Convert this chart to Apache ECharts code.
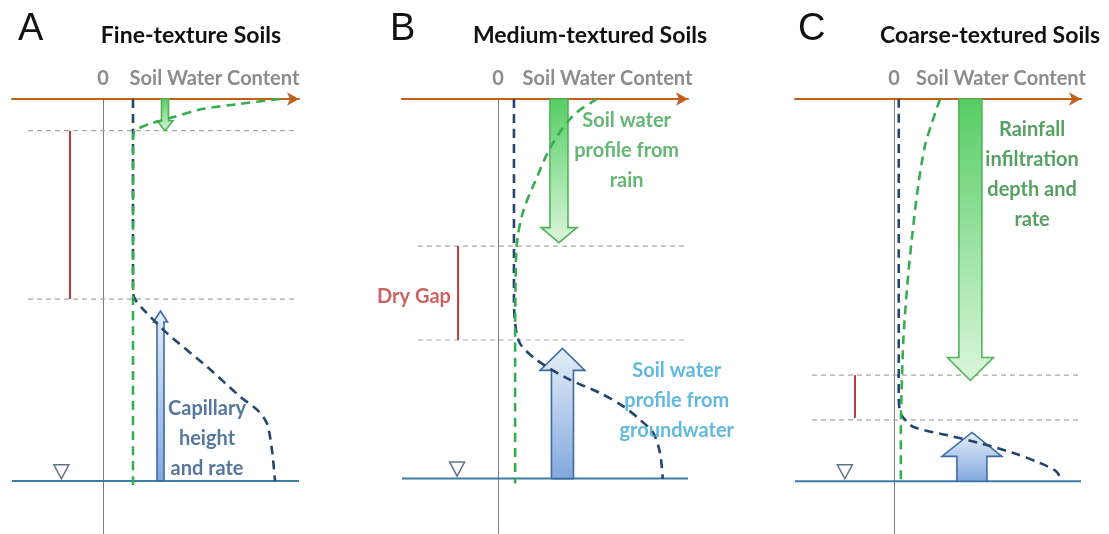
<!DOCTYPE html>
<html><head><meta charset="utf-8">
<script src="https://cdn.jsdelivr.net/npm/echarts@6/dist/echarts.min.js"></script>
<style>html,body{margin:0;padding:0;background:#fff}#c{width:1109px;height:534px}</style>
</head><body><div id="c"></div>
<script>
// ---------- DATA (x = soil water content, arbitrary units; d = depth, 0 = surface, 100 = water table) ----------
const panelLetters = ['A', 'B', 'C'];
const panelTitles = ['Fine-texture Soils', 'Medium-textured Soils', 'Coarse-textured Soils'];
const axisTitle = 'Soil Water Content';
const zeroTick = [0];

// depth of the water table in each panel
const waterTable = [100, 99.4, 100.1];
// dashed boundaries of the dry gap (depths) and the red bar [x, top, bottom]
const gapLinesA = [8.3, 52.4];
const gapLinesB = [38.5, 63.1];
const gapLinesC = [72.3, 84.0];
const dryBarA = [-16.5, 8.3, 52.4];
const dryBarB = [-20.6, 38.5, 63.1];
const dryBarC = [-20.4, 72.3, 83.5];
// water table marker [x, depth]
const wtMarker = [[-20.8, 97.6], [-21.1, 96.9], [-25.7, 97.6]];

// soil water profile from rain (green dashed)
const rainProfileA = [[88.5, 0], [68, 1.3], [48, 2.8], [35, 4.8], [23, 6.6], [16, 8.3], [15, 10], [15, 40], [15, 70], [15, 102]];
const rainProfileB = [[51, 0], [39, 4.2], [27.7, 12], [19.1, 21.6], [12.9, 29.5], [9.8, 37.3], [9.1, 45], [8.9, 54], [8.8, 62], [8.8, 80], [8.8, 100.7]];
const rainProfileC = [[24.1, 0], [19.9, 6.2], [16.2, 12.3], [12.6, 23], [9.4, 36.4], [6.8, 49.8], [4.9, 63.2], [4, 76.6], [3.6, 85.7], [3.6, 93], [3.6, 100.7]];

// soil water profile from groundwater (dark blue dashed)
const gwProfileA = [[15, 0], [15, 25], [15, 49], [15.6, 52], [20, 55], [32, 61.3], [52, 70.1], [68.5, 77.9], [77.5, 81.6], [82, 85], [84.5, 92], [86, 100]];
const gwProfileB = [[8.2, 0], [8.2, 25], [8.2, 51.7], [8.8, 58.7], [11.3, 64], [19.9, 68.3], [35.4, 73.1], [52.6, 77], [64.6, 80.5], [73.2, 84], [80.1, 87.5], [83.5, 92.8], [84.9, 99.4]];
const gwProfileC = [[2.5, 0], [2.5, 40], [2.5, 78], [3, 81.5], [4.2, 83], [10, 85.8], [27.6, 88], [45, 90.1], [62.5, 92.7], [76.4, 95.3], [85.1, 97.6], [87.7, 100.1]];

// arrows [x, fromDepth, toDepth(tip)]
const rainArrows = [[31, 0, 8.3], [31.4, 0, 37.6], [40, 0, 73.7]];
const capArrows = [[28.75, 100, 55.5], [33.2, 99.4, 65.3], [40.8, 100.1, 87.3]];

// annotations [x, depth, text]
const notesA = [[52, 89, 'Capillary\nheight\nand rate']];
const notesB = [[66.3, 13.4, 'Soil water\nprofile from\nrain'], [92.1, 79, 'Soil water\nprofile from\ngroundwater'], [-43.3, 51.8, 'Dry Gap']];
const notesC = [[72.3, 19.8, 'Rainfall\ninfiltration\ndepth and\nrate']];

// ---------- LAYOUT / STYLE ----------
const grids = [
  { left: 12, top: 99, width: 287, height: 435, xmin: -45.5, xmax: 98 },
  { left: 402, top: 99, width: 286, height: 435, xmin: -49.5, xmax: 97.9 },
  { left: 795, top: 99, width: 286, height: 435, xmin: -51.8, xmax: 97.9 }
];
const yMax = 113.9;
const FONT = 'Lato';
const rainArrowStyle = [
  { shaft: 7, head: 16, headLen: 10 },
  { shaft: 18, head: 36, headLen: 15 },
  { shaft: 23, head: 46, headLen: 23 }
];
const capArrowStyle = [
  { shaft: 7, head: 14, headLen: 11 },
  { shaft: 22, head: 45, headLen: 22 },
  { shaft: 30, head: 60, headLen: 24 }
];
const noteColorsB = ['#3fa551', '#3aa7d4', '#c0393b'];
const noteColorA = '#2a5586';
const noteColorC = '#2c8a3a';

const gapLines = [gapLinesA, gapLinesB, gapLinesC];
const dryBars = [dryBarA, dryBarB, dryBarC];
const rainProfiles = [rainProfileA, rainProfileB, rainProfileC];
const gwProfiles = [gwProfileA, gwProfileB, gwProfileC];
const notes = [notesA, notesB, notesC];

const chart = echarts.init(document.getElementById('c'));

function arrowSeries(gi, item, st, kind) {
  return {
    type: 'custom', xAxisIndex: gi, yAxisIndex: gi, z: 3, silent: true,
    data: [item],
    renderItem: function (params, api) {
      const x = api.value(0), d0 = api.value(1), d1 = api.value(2);
      const p0 = api.coord([x, d0]), p1 = api.coord([x, d1]);
      const dir = p1[1] > p0[1] ? 1 : -1;
      const cx = p0[0];
      const hb = p1[1] - dir * st.headLen;
      const sw = st.shaft / 2, hw = st.head / 2;
      const pts = [[cx - sw, p0[1]], [cx - sw, hb], [cx - hw, hb], [cx, p1[1]], [cx + hw, hb], [cx + sw, hb], [cx + sw, p0[1]]];
      const fill = kind === 'rain'
        ? new echarts.graphic.LinearGradient(0, 0, 0, 1, [{ offset: 0, color: '#56cd64' }, { offset: 1, color: '#dcf6dc' }])
        : new echarts.graphic.LinearGradient(0, 0, 0, 1, [{ offset: 0, color: '#e6eef9' }, { offset: 1, color: '#82a8de' }]);
      return {
        type: 'polygon', shape: { points: pts },
        style: { fill: fill, stroke: kind === 'rain' ? '#4db45a' : '#3d6ca4', lineWidth: 1.6 }
      };
    }
  };
}

const series = [];
const xAxes = [], yAxes = [], gridOpts = [];
grids.forEach((g, i) => {
  gridOpts.push({ left: g.left, top: g.top, width: g.width, height: g.height, containLabel: false });
  xAxes.push({
    gridIndex: i, type: 'value', position: 'top', min: g.xmin, max: g.xmax,
    axisLine: { show: true, onZero: false, lineStyle: { color: '#c0601f', width: 2 }, symbol: ['none', 'arrow'], symbolSize: [10, 12] },
    axisTick: { show: false }, splitLine: { show: false },
    axisLabel: { show: true, customValues: zeroTick, margin: 10, color: '#8c8c8c', fontFamily: FONT, fontWeight: 'bold', fontSize: 20 }
  });
  yAxes.push({
    gridIndex: i, type: 'value', inverse: true, min: 0, max: yMax,
    axisLine: { show: true, onZero: true, lineStyle: { color: '#7a7a7a', width: 1 } },
    axisTick: { show: false }, axisLabel: { show: false }, splitLine: { show: false }
  });
  // dashed gap boundaries
  gapLines[i].forEach(d => {
    series.push({
      type: 'line', xAxisIndex: i, yAxisIndex: i, symbol: 'none', silent: true, z: 1,
      data: [[g.xmin + (i === 0 ? 8 : i === 1 ? 8.2 : 8.9), d], [g.xmax - 0.5, d]],
      lineStyle: { color: '#a6a6a6', width: 1.2, type: [5, 4] }
    });
  });
  // red bar
  series.push({
    type: 'line', xAxisIndex: i, yAxisIndex: i, symbol: 'none', silent: true, z: 2,
    data: [[dryBars[i][0], dryBars[i][1]], [dryBars[i][0], dryBars[i][2]]],
    lineStyle: { color: '#c0393b', width: 2 }
  });
  // water table
  series.push({
    type: 'line', xAxisIndex: i, yAxisIndex: i, symbol: 'none', silent: true, z: 2,
    data: [[g.xmin, waterTable[i]], [g.xmax, waterTable[i]]],
    lineStyle: { color: '#3c7da6', width: 2 }
  });
  // arrows
  series.push(arrowSeries(i, rainArrows[i], rainArrowStyle[i], 'rain'));
  series.push(arrowSeries(i, capArrows[i], capArrowStyle[i], 'cap'));
  // profiles
  series.push({
    type: 'line', xAxisIndex: i, yAxisIndex: i, symbol: 'none', silent: true, z: 4, smooth: 0.3,
    data: gwProfiles[i], lineStyle: { color: '#23466e', width: 2.6, type: [9, 6] }
  });
  series.push({
    type: 'line', xAxisIndex: i, yAxisIndex: i, symbol: 'none', silent: true, z: 5, smooth: 0.3,
    data: rainProfiles[i], lineStyle: { color: '#36ad4f', width: 2.6, type: [9, 6] }
  });
  // water table marker
  series.push({
    type: 'scatter', xAxisIndex: i, yAxisIndex: i, silent: true, z: 6,
    symbol: 'triangle', symbolRotate: 180, symbolSize: [15, 14],
    data: [wtMarker[i]],
    itemStyle: { color: '#ffffff', borderColor: '#34516b', borderWidth: 1.5 }
  });
  // notes
  series.push({
    type: 'scatter', xAxisIndex: i, yAxisIndex: i, silent: true, z: 7, symbolSize: 1,
    itemStyle: { color: 'rgba(0,0,0,0)' },
    data: notes[i].map((n, k) => ({
      value: [n[0], n[1]], name: n[2],
      label: { color: i === 0 ? noteColorA : i === 1 ? noteColorsB[k] : noteColorC }
    })),
    label: {
      show: true, position: 'inside', formatter: p => p.name,
      fontFamily: FONT, fontWeight: 'bold', fontSize: 20, lineHeight: 30, align: 'center'
    }
  });
});

const titleCenters = [191, 590, 990];
const letterLeft = [18, 390, 798];
const axisTitleCenter = [214.5, 607.5, 1001];
const graphic = [];
for (let i = 0; i < 3; i++) {
  graphic.push({ type: 'text', x: letterLeft[i], y: 30, style: { text: panelLetters[i], font: '38px "Liberation Sans"', fill: '#111', align: 'left', verticalAlign: 'middle' } });
  graphic.push({ type: 'text', x: titleCenters[i], y: 36, style: { text: panelTitles[i], font: 'bold 23px Lato', fill: '#111', align: 'center', verticalAlign: 'middle' } });
  graphic.push({ type: 'text', x: axisTitleCenter[i], y: 79, style: { text: axisTitle, font: 'bold 20px Lato', fill: '#8c8c8c', align: 'center', verticalAlign: 'middle' } });
}

chart.setOption({
  animation: false,
  backgroundColor: '#ffffff',
  grid: gridOpts, xAxis: xAxes, yAxis: yAxes, series: series, graphic: graphic
});
</script></body></html>
